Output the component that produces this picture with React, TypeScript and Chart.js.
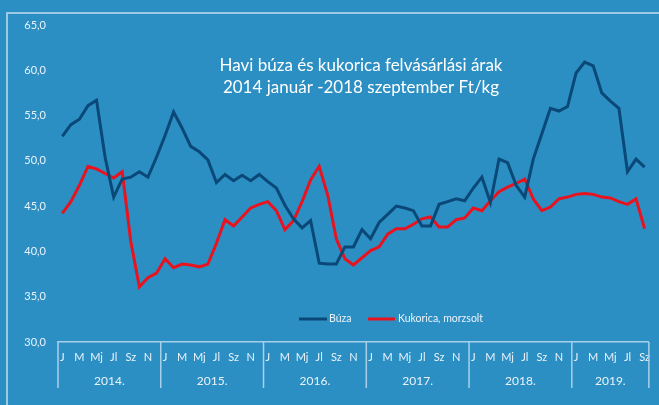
import React, { useEffect, useRef } from "react";
import { Chart, registerables } from "chart.js";

Chart.register(...registerables);

const monthNames = ["J", "F", "M", "Á", "Mj", "Jn", "Jl", "Au", "Sz", "O", "N", "D"];
const years = ["2014.", "2015.", "2016.", "2017.", "2018.", "2019."];
const monthsInLastYear = 9;

const buza = [
  52.7, 54.0, 54.6, 56.1, 56.7, 50.4, 46.0, 48.0, 48.2, 48.8, 48.2, 50.4,
  52.8, 55.4, 53.6, 51.6, 51.0, 50.1, 47.6, 48.5, 47.8, 48.4, 47.8, 48.5,
  47.7, 47.0, 45.1, 43.6, 42.6, 43.4, 38.7, 38.6, 38.6, 40.5, 40.5, 42.4,
  41.4, 43.2, 44.1, 45.0, 44.8, 44.5, 42.8, 42.8, 45.2, 45.5, 45.8, 45.6,
  47.0, 48.2, 45.4, 50.2, 49.8, 47.3, 46.0, 50.2, 53.0, 55.8, 55.5, 56.0,
  59.7, 60.9, 60.5, 57.5, 56.6, 55.8, 48.8, 50.2, 49.3,
];

const kukorica = [
  44.2, 45.5, 47.3, 49.4, 49.1, 48.6, 48.1, 48.8, 41.1, 36.1, 37.1, 37.6,
  39.2, 38.2, 38.6, 38.5, 38.3, 38.6, 40.9, 43.5, 42.8, 43.8, 44.8, 45.2,
  45.5, 44.5, 42.4, 43.4, 45.5, 47.9, 49.4, 46.2, 41.4, 39.2, 38.5, 39.3,
  40.1, 40.5, 41.9, 42.5, 42.5, 43.0, 43.6, 43.8, 42.7, 42.7, 43.5, 43.7,
  44.8, 44.5, 45.6, 46.6, 47.1, 47.5, 48.0, 45.8, 44.5, 44.9, 45.8, 46.0,
  46.3, 46.4, 46.3, 46.0, 45.9, 45.5, 45.2, 45.8, 42.5,
];

const seriesNames = ["Búza", "Kukorica, morzsolt"];
const titleLines = ["Havi búza és kukorica felvásárlási árak", "2014 január -2018 szeptember Ft/kg"];

const BG = "#2C8FC4";
const BUZA_COLOR = "#0A4878";
const KUK_COLOR = "#E8131F";
const TEXT = "#EAF3FA";
const AXIS = "#A8D0EA";
const FONT = "Lato, 'Open Sans', sans-serif";

const labels: string[] = [];
years.forEach((_, y) => {
  const n = y === years.length - 1 ? monthsInLastYear : 12;
  for (let m = 0; m < n; m++) labels.push(monthNames[m]);
});

const overlayPlugin = {
  id: "overlay",
  afterDraw(chart: any) {
    const ctx = chart.ctx;
    const x = chart.scales.x;
    const area = chart.chartArea;
    const half = (x.getPixelForValue(1) - x.getPixelForValue(0)) / 2;
    ctx.save();
    // year separators
    ctx.strokeStyle = AXIS;
    ctx.lineWidth = 1.5;
    const bounds: number[] = [];
    for (let y = 0; y <= years.length; y++) {
      const idx = Math.min(y * 12, labels.length);
      const px = idx < labels.length ? x.getPixelForValue(idx) - half : x.getPixelForValue(labels.length - 1) + half;
      bounds.push(px);
      ctx.beginPath();
      ctx.moveTo(px, area.bottom);
      ctx.lineTo(px, area.bottom + 46);
      ctx.stroke();
    }
    // year labels
    ctx.fillStyle = TEXT;
    ctx.font = `12px ${FONT}`;
    ctx.textAlign = "center";
    ctx.textBaseline = "middle";
    years.forEach((yl, i) => {
      ctx.fillText(yl, (bounds[i] + bounds[i + 1]) / 2, area.bottom + 39);
    });
    // title
    ctx.fillStyle = "#FFFFFF";
    ctx.font = `17px ${FONT}`;
    ctx.fillText(titleLines[0], 361, 66);
    ctx.fillText(titleLines[1], 361, 88);
    // legend
    ctx.lineWidth = 3;
    ctx.font = `10.5px ${FONT}`;
    ctx.textAlign = "left";
    ctx.strokeStyle = BUZA_COLOR;
    ctx.beginPath();
    ctx.moveTo(299, 319);
    ctx.lineTo(327, 319);
    ctx.stroke();
    ctx.fillStyle = TEXT;
    ctx.fillText(seriesNames[0], 329, 319);
    ctx.strokeStyle = KUK_COLOR;
    ctx.beginPath();
    ctx.moveTo(368, 319);
    ctx.lineTo(395, 319);
    ctx.stroke();
    ctx.fillText(seriesNames[1], 398, 319);
    ctx.restore();
  },
};

export default function App() {
  const ref = useRef<HTMLCanvasElement>(null);
  useEffect(() => {
    document.body.style.margin = "0";
    const chart = new Chart(ref.current!, {
      type: "line",
      data: {
        labels,
        datasets: [
          {
            label: seriesNames[0],
            data: buza,
            borderColor: BUZA_COLOR,
            borderWidth: 3,
            pointRadius: 0,
            tension: 0,
            fill: false,
          },
          {
            label: seriesNames[1],
            data: kukorica,
            borderColor: KUK_COLOR,
            borderWidth: 3,
            pointRadius: 0,
            tension: 0,
            fill: false,
          },
        ],
      },
      options: {
        responsive: false,
        animation: false,
        devicePixelRatio: 1,
        layout: { padding: { top: 25, right: 4, left: 0, bottom: 0 } },
        plugins: { legend: { display: false }, tooltip: { enabled: false }, title: { display: false } },
        scales: {
          x: {
            type: "category",
            offset: true,
            grid: { display: false, drawTicks: false },
            border: { display: true, color: AXIS, width: 1.5 },
            ticks: {
              autoSkip: false,
              maxRotation: 0,
              minRotation: 0,
              padding: 9,
              color: TEXT,
              font: { family: FONT, size: 11 },
              callback: (_v: any, i: number) => (i % 2 === 0 ? labels[i] : ""),
            },
            afterFit: (s: any) => {
              s.height = 63;
            },
          },
          y: {
            min: 30,
            max: 65,
            grid: { display: false, drawTicks: false },
            border: { display: false },
            ticks: {
              stepSize: 5,
              padding: 12,
              color: TEXT,
              font: { family: FONT, size: 11 },
              callback: (v: any) => Number(v).toFixed(1).replace(".", ","),
            },
            afterFit: (s: any) => {
              s.width = 58;
            },
          },
        },
      },
      plugins: [overlayPlugin],
    });
    return () => chart.destroy();
  }, []);
  return (
    <div style={{ position: "fixed", left: 0, top: 0, width: 659, height: 405, background: BG, overflow: "hidden" }}>
      <div
        style={{
          position: "absolute",
          left: 6,
          top: 12,
          width: 700,
          height: 500,
          borderLeft: "2px solid #9CCAE6",
          borderTop: "2px solid #9CCAE6",
        }}
      />
      <canvas ref={ref} width={659} height={405} style={{ position: "absolute", left: 0, top: 0 }} />
    </div>
  );
}
